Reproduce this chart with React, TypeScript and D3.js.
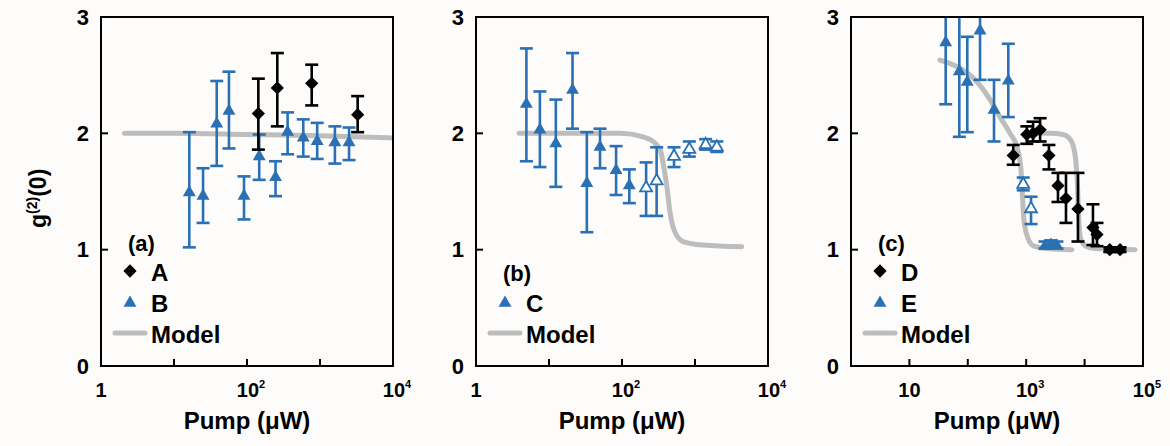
import React from "react";
import * as d3 from "d3";

// [pump (µW), g2(0), lower error, upper error]
type Pt = [number, number, number, number];

const seriesA: Pt[] = [
    [143, 2.17, 1.86, 2.47],
    [260, 2.39, 2.06, 2.69],
    [770, 2.43, 2.24, 2.59],
    [3280, 2.16, 2.01, 2.32],
];

const seriesB: Pt[] = [
    [16.2, 1.50, 1.02, 2.01],
    [25, 1.47, 1.23, 1.70],
    [38.5, 2.09, 1.72, 2.45],
    [56.6, 2.20, 1.87, 2.53],
    [91, 1.47, 1.26, 1.63],
    [147, 1.81, 1.60, 1.99],
    [246, 1.63, 1.46, 1.76],
    [360, 2.02, 1.82, 2.18],
    [590, 1.97, 1.80, 2.12],
    [915, 1.94, 1.78, 2.09],
    [1600, 1.93, 1.74, 2.06],
    [2500, 1.93, 1.77, 2.05],
];

const modelA: [number, number][] = [
    [2.1, 2.0], [10, 2.0], [100, 1.99], [1000, 1.98], [10000, 1.96],
];

const seriesC: Pt[] = [
    [4.9, 2.26, 1.76, 2.73],
    [7.5, 2.04, 1.71, 2.36],
    [12.4, 1.92, 1.54, 2.29],
    [21, 2.38, 2.04, 2.69],
    [33, 1.58, 1.15, 2.01],
    [50, 1.89, 1.70, 2.04],
    [83, 1.69, 1.47, 1.89],
    [126, 1.56, 1.40, 1.69],
];

const seriesCOpen: Pt[] = [
    [214, 1.54, 1.29, 1.75],
    [298, 1.60, 1.29, 1.88],
    [516, 1.81, 1.71, 1.88],
    [836, 1.87, 1.80, 1.93],
    [1400, 1.91, 1.86, 1.95],
    [1990, 1.89, 1.84, 1.93],
];

const modelB: [number, number][] = [
    [3.9, 2.0], [30, 2.0], [94, 2.0], [194, 1.97], [266, 1.93], [333, 1.86],
    [376, 1.70], [410, 1.55], [455, 1.32], [516, 1.17], [686, 1.07],
    [1290, 1.04], [4360, 1.025],
];

const seriesD: Pt[] = [
    [600, 1.81, 1.73, 1.90],
    [1025, 1.99, 1.91, 2.06],
    [1310, 2.00, 1.93, 2.10],
    [1730, 2.03, 1.93, 2.13],
    [2450, 1.81, 1.69, 1.90],
    [3500, 1.55, 1.41, 1.66],
    [4800, 1.44, 1.23, 1.66],
    [7700, 1.35, 1.07, 1.66],
    [13900, 1.19, 1.04, 1.39],
    [16300, 1.13, 1.03, 1.23],
    [27000, 1.00, 0.98, 1.02],
    [40500, 1.00, 0.98, 1.02],
];

const seriesE: Pt[] = [
    [41.8, 2.79, 2.25, 3.3],
    [71.6, 2.54, 1.97, 3.3],
    [98, 2.45, 2.01, 2.83],
    [162, 2.89, 2.46, 3.3],
    [281, 2.21, 1.93, 2.46],
    [494, 2.46, 2.14, 2.77],
    [2100, 1.04, 1.01, 1.07],
    [2650, 1.05, 1.02, 1.08],
    [3360, 1.04, 1.01, 1.07],
];

const seriesEOpen: Pt[] = [
    [890, 1.57, 1.51, 1.62],
    [1210, 1.36, 1.22, 1.455],
];

const modelC1: [number, number][] = [
    [33.4, 2.63], [73.5, 2.56], [133, 2.46], [240, 2.29], [356, 2.14],
    [528, 2.0], [694, 1.88], [811, 1.70], [865, 1.45], [917, 1.25],
    [1070, 1.10], [1360, 1.03], [2100, 1.01], [6060, 1.0],
];

const modelC2: [number, number][] = [
    [1420, 2.0], [2560, 2.0], [4270, 1.99], [5400, 1.96], [6300, 1.90],
    [7100, 1.75], [7550, 1.55], [7860, 1.31], [8500, 1.10], [10500, 1.03],
    [15100, 1.01], [72800, 1.0],
];

const yTicks = [0, 1, 2, 3];
const xLabel = "Pump (μW)";
const yLabelBase = "g";

const BLUE = "#2a70b4";
const GRAY = "#bdbdbd";
const FONT = "'Liberation Sans', Arial, sans-serif";

const TOP = 17;
const BOTTOM = 366;
const PW = 292;

interface SeriesDef {
    data: Pt[];
    shape: "diamond" | "triangle";
    color: string;
    open?: boolean;
}

interface LegendItem {
    label: string;
    kind: "diamond" | "triangle" | "line";
    color: string;
}

interface PanelProps {
    id: string;
    left: number;
    domain: [number, number];
    ticks: number[];
    labels: number[];
    series: SeriesDef[];
    models: [number, number][][];
    tag: string;
    legend: LegendItem[];
}

function Marker(props: { shape: string; x: number; y: number; color: string; open?: boolean }) {
    const { shape, x, y, color, open } = props;
    if (shape === "diamond") {
        const d = d3.symbol(d3.symbolSquare, 88)()!;
        return <path d={d} transform={`translate(${x},${y}) rotate(45)`} fill={color} />;
    }
    const d = d3.symbol(d3.symbolTriangle, open ? 62 : 72)()!;
    return <path d={d} transform={`translate(${x},${y + 1})`}
        fill={open ? "#fff" : color} stroke={open ? color : "none"} strokeWidth={1.8} />;
}

function TickLabel(props: { v: number; x: number; y: number }) {
    const exp = Math.round(Math.log10(props.v));
    if (exp <= 1) {
        return <text x={props.x} y={props.y} textAnchor="middle" fontSize={20}>{props.v}</text>;
    }
    return <text x={props.x + 4} y={props.y} textAnchor="middle" fontSize={20}>
        10<tspan dy={-9} fontSize={11}>{exp}</tspan>
    </text>;
}

function Panel(props: PanelProps) {
    const { id, left, domain, ticks, labels, series, models, tag, legend } = props;
    const x = d3.scaleLog(domain, [left, left + PW]);
    const y = d3.scaleLinear([0, 3], [BOTTOM, TOP]);
    const line = d3.line<[number, number]>()
        .x(d => x(d[0]))
        .y(d => y(d[1]))
        .curve(d3.curveMonotoneX);

    const rowY = [241, 271, 302, 333];
    const startRow = 4 - legend.length - 1;

    return <g>
        <defs>
            <clipPath id={`clip-${id}`}>
                <rect x={left} y={TOP} width={PW} height={BOTTOM - TOP} />
            </clipPath>
        </defs>

        {/* models */}
        <g clipPath={`url(#clip-${id})`}>
            {models.map((m, i) => (
                <path key={i} d={line(m)!} fill="none" stroke={GRAY} strokeWidth={5} strokeLinecap="round" />
            ))}
            {series.map((s, si) => (
                <g key={si}>
                    {s.data.map((p, i) => {
                        const px = x(p[0]);
                        return <g key={i} stroke={s.color} strokeWidth={2.6}>
                            <line x1={px} x2={px} y1={y(p[2])} y2={y(p[3])} />
                            <line x1={px - 6.5} x2={px + 6.5} y1={y(p[2])} y2={y(p[2])} />
                            <line x1={px - 6.5} x2={px + 6.5} y1={y(p[3])} y2={y(p[3])} />
                        </g>;
                    })}
                    {s.data.map((p, i) => (
                        <Marker key={i} shape={s.shape} x={x(p[0])} y={y(p[1])} color={s.color} open={s.open} />
                    ))}
                </g>
            ))}
        </g>

        {/* frame and ticks */}
        <rect x={left} y={TOP} width={PW} height={BOTTOM - TOP} fill="none" stroke="#000" strokeWidth={2} />
        {yTicks.map(t => (
            <g key={t}>
                <line x1={left} x2={left + 7} y1={y(t)} y2={y(t)} stroke="#000" strokeWidth={2} />
                <text x={left - 12} y={y(t)} textAnchor="end" dominantBaseline="central" fontSize={22}>{t}</text>
            </g>
        ))}
        {ticks.map(t => (
            <line key={t} x1={x(t)} x2={x(t)} y1={BOTTOM} y2={BOTTOM - 7} stroke="#000" strokeWidth={2} />
        ))}
        {labels.map(t => (
            <TickLabel key={t} v={t} x={x(t)} y={397} />
        ))}
        <text x={left + PW / 2} y={429} textAnchor="middle" fontSize={24}>{xLabel}</text>

        {/* legend */}
        <text x={left + 27} y={rowY[startRow] + 2} dominantBaseline="central" fontSize={22}>{tag}</text>
        {legend.map((it, i) => {
            const ly = rowY[startRow + 1 + i];
            return <g key={it.label}>
                {it.kind === "line"
                    ? <line x1={left + 14} x2={left + 44} y1={ly} y2={ly} stroke={it.color} strokeWidth={5} strokeLinecap="round" />
                    : <Marker shape={it.kind} x={left + 29} y={ly} color={it.color} />}
                <text x={left + 50} y={ly + 1} dominantBaseline="central" fontSize={24}>{it.label}</text>
            </g>;
        })}
    </g>;
}

export default function App() {
    return <svg width={1170} height={446} style={{ position: "absolute", left: 0, top: 0, background: "#fdfcfa" }}
        fontFamily={FONT} fontWeight="bold">
        <text transform="translate(46,228) rotate(-90)" textAnchor="start" fontSize={23}>
            {yLabelBase}<tspan dy={-9} fontSize={14}>(2)</tspan><tspan dy={9}>(0)</tspan>
        </text>
        <Panel id="a" left={101} domain={[1, 1e4]} ticks={[10, 100, 1000]} labels={[1, 100, 1e4]}
            series={[
                { data: seriesB, shape: "triangle", color: BLUE },
                { data: seriesA, shape: "diamond", color: "#000" },
            ]}
            models={[modelA]}
            tag="(a)"
            legend={[
                { label: "A", kind: "diamond", color: "#000" },
                { label: "B", kind: "triangle", color: BLUE },
                { label: "Model", kind: "line", color: GRAY },
            ]} />
        <Panel id="b" left={476} domain={[1, 1e4]} ticks={[10, 100, 1000]} labels={[1, 100, 1e4]}
            series={[
                { data: seriesC, shape: "triangle", color: BLUE },
                { data: seriesCOpen, shape: "triangle", color: BLUE, open: true },
            ]}
            models={[modelB]}
            tag="(b)"
            legend={[
                { label: "C", kind: "triangle", color: BLUE },
                { label: "Model", kind: "line", color: GRAY },
            ]} />
        <Panel id="c" left={851} domain={[1, 1e5]} ticks={[10, 100, 1000, 1e4]} labels={[10, 1000, 1e5]}
            series={[
                { data: seriesE, shape: "triangle", color: BLUE },
                { data: seriesEOpen, shape: "triangle", color: BLUE, open: true },
                { data: seriesD, shape: "diamond", color: "#000" },
            ]}
            models={[modelC1, modelC2]}
            tag="(c)"
            legend={[
                { label: "D", kind: "diamond", color: "#000" },
                { label: "E", kind: "triangle", color: BLUE },
                { label: "Model", kind: "line", color: GRAY },
            ]} />
    </svg>;
}
